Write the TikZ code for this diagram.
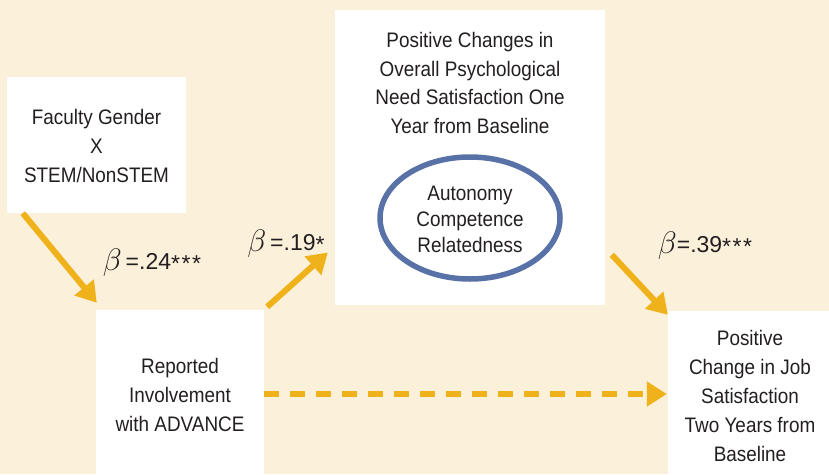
\documentclass[tikz,border=0pt]{standalone}
\usepackage{fontspec}
\setmainfont{Liberation Sans}[FakeStretch=0.9]
\newfontfamily\labfont{Liberation Sans}
\usetikzlibrary{arrows.meta,calc}
\definecolor{bg}{RGB}{251,240,218}
\definecolor{arr}{RGB}{240,178,26}
\definecolor{ell}{RGB}{88,114,168}
\definecolor{txt}{RGB}{35,31,32}
\tikzset{
  box/.style={draw=none,fill=white,inner sep=0pt},
  lbl/.style={text=txt,align=center,font=\fontsize{21}{28.8}\selectfont},
  coef/.style={text=txt,font=\labfont\fontsize{23}{26}\selectfont},
  conn/.style={draw=arr,line width=6pt,-{Triangle[length=20pt,width=24pt]}},
  dconn/.style={conn,dash pattern=on 15pt off 11pt},
}
\newcommand{\bsym}{\raisebox{-1pt}{\scalebox{1.25}{$\beta$}}}
\newcommand{\st}{\raisebox{-1.5pt}{*}}
\begin{document}
\begin{tikzpicture}[x=1pt,y=-1pt]
\fill[bg] (0,0) rectangle (829,474);
\useasboundingbox (0,0) rectangle (829,474);
% boxes
\node[box,minimum width=179pt,minimum height=136pt] (f) at (96.5,145) {};
\node[box,minimum width=168pt,minimum height=164pt] (r) at (180,392) {};
\node[box,minimum width=270pt,minimum height=295pt] (c) at (470,157.5) {};
\node[box,minimum width=161pt,minimum height=163pt] (j) at (748.5,392.5) {};
% texts
\node[lbl] (ft) at (96.5,146) {Faculty Gender\\X\\STEM/NonSTEM};
\node[lbl] (rt) at (180,395) {Reported\\Involvement\\with ADVANCE};
\node[lbl] (ct) at (470,83) {Positive Changes in\\Overall Psychological\\Need Satisfaction One\\Year from Baseline};
\node[lbl] (jt) at (750,396) {Positive\\Change in Job\\Satisfaction\\Two Years from\\Baseline};
% ellipse
\draw[ell,line width=5.5pt] (470,218) ellipse [x radius=90pt,y radius=61pt];
\node[text=txt,align=center,font=\fontsize{21}{26}\selectfont] (et) at (470,219) {Autonomy\\Competence\\Relatedness};
% connectors
\draw[conn] ($(f.south west)+(16,0)$) -- ($(r.north west)+(1,-7)$);
\draw[conn] ($(r.north east)+(3,-3)$) -- ($(c.west)+(-7,95)$);
\draw[conn] ($(j.north west)+(-56,-56)$) -- ($(j.north west)+(0,4)$);
\draw[dconn] ($(r.east)+(0,2)$) -- ($(j.west)+(-1,1.5)$);
% coefficients
\node[coef] (b1) at (152,263) {\bsym\,=.24\st\kern1.5pt\st\kern1.5pt\st};
\node[coef] (b2) at (286,244) {\bsym\,=.19\st};
\node[coef] (b3) at (705,246) {\bsym=.39\st\kern1.5pt\st\kern1.5pt\st};
\end{tikzpicture}
\end{document}
